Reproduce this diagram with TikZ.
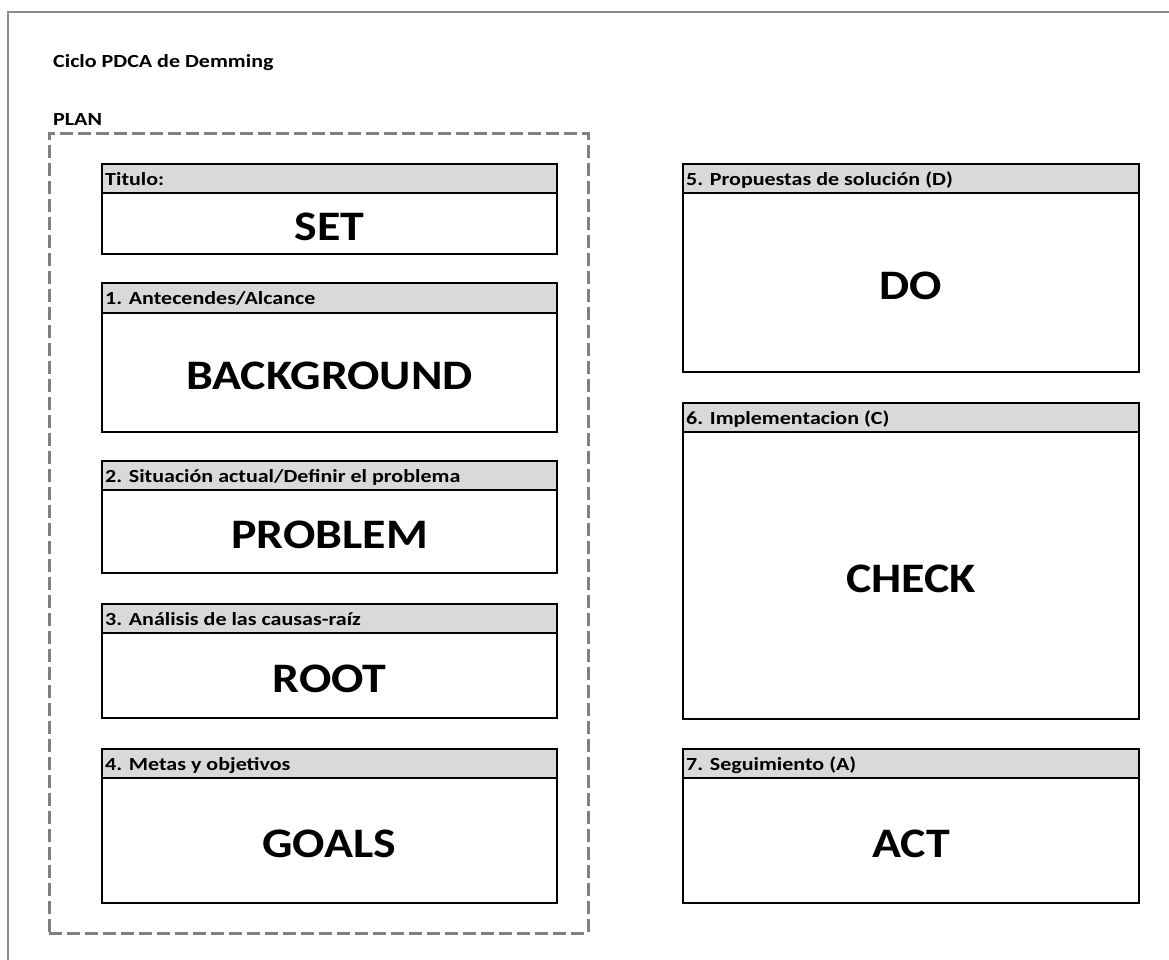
\documentclass[tikz,border=0pt]{standalone}
\usepackage{fontspec}
\setmainfont{Carlito}
\newfontfamily\smallfont[FakeStretch=1.19]{Carlito}
\newfontfamily\bigfont[FakeStretch=1.14]{Carlito}
\definecolor{hdrgray}{HTML}{D9D9D9}
\definecolor{dashgray}{HTML}{808080}
\definecolor{framegray}{HTML}{8C8C8C}
\newcommand{\pdcabox}[8]{%
  % #1 name, #2 x, #3 top y, #4 width, #5 header height, #6 body height, #7 header text, #8 big text
  \node[hdrbox, minimum width=#4, minimum height=#5] (#1h) at (#2,#3) {};
  \node[bodybox, minimum width=#4, minimum height=#6] (#1b) at (#1h.south west) {};
  \node[hdrtext] (#1t) at ([xshift=3pt,yshift=-21pt]#1h.north west) {#7};
  \node[bigtext] (#1x) at ([yshift=-3pt]#1b.center) {#8};
}
\begin{document}
\begin{tikzpicture}[x=1pt,y=-1pt,
  hdrbox/.style={draw=black, line width=2.6pt, fill=hdrgray, anchor=north west, inner sep=0pt, outer sep=0pt},
  bodybox/.style={draw=black, line width=2.6pt, fill=white, anchor=north west, inner sep=0pt, outer sep=0pt},
  hdrtext/.style={anchor=base west, inner sep=0pt, font=\smallfont\bfseries\fontsize{18.5}{22}\selectfont},
  bigtext/.style={anchor=center, inner sep=0pt, font=\bigfont\bfseries\fontsize{42}{50}\selectfont},
  lbl/.style={anchor=base west, inner sep=0pt, font=\smallfont\bfseries\fontsize{18.5}{22}\selectfont}]
\useasboundingbox (0,0) rectangle (1169,959);
\fill[white] (0,0) rectangle (1169,959);
% outer frame (only top and left edges visible)
\draw[framegray, line width=1.8pt] (8,962) -- (8,12) -- (1172,12);
% titles
\node[lbl] (title) at (53,67) {Ciclo PDCA de Demming};
\node[lbl] (plan) at (53,125) {PLAN};
% PLAN dashed frame
\node[draw=dashgray, line width=3pt, dash pattern=on 13pt off 5pt, anchor=north west, inner sep=0pt, outer sep=0pt,
      minimum width=539pt, minimum height=800pt] (planframe) at (49,133) {};
% left column
\pdcabox{s}{102}{164}{455pt}{29pt}{61pt}{Titulo:}{SET}
\pdcabox{a}{102}{283}{455pt}{30pt}{119pt}{1. Antecendes/Alcance}{BACKGROUND}
\pdcabox{p}{102}{461}{455pt}{29pt}{83pt}{2. Situación actual/Definir el problema}{PROBLEM}
\pdcabox{r}{102}{604}{455pt}{29pt}{85pt}{3. Análisis de las causas-raíz}{ROOT}
\pdcabox{g}{102}{749}{455pt}{29pt}{125pt}{4. Metas y objetivos}{GOALS}
% right column
\pdcabox{d}{683}{164}{456pt}{29pt}{179pt}{5. Propuestas de solución (D)}{DO}
\pdcabox{c}{683}{403}{456pt}{29pt}{287pt}{6. Implementacion (C)}{CHECK}
\pdcabox{k}{683}{749}{456pt}{29pt}{125pt}{7. Seguimiento (A)}{ACT}
\end{tikzpicture}
\end{document}
